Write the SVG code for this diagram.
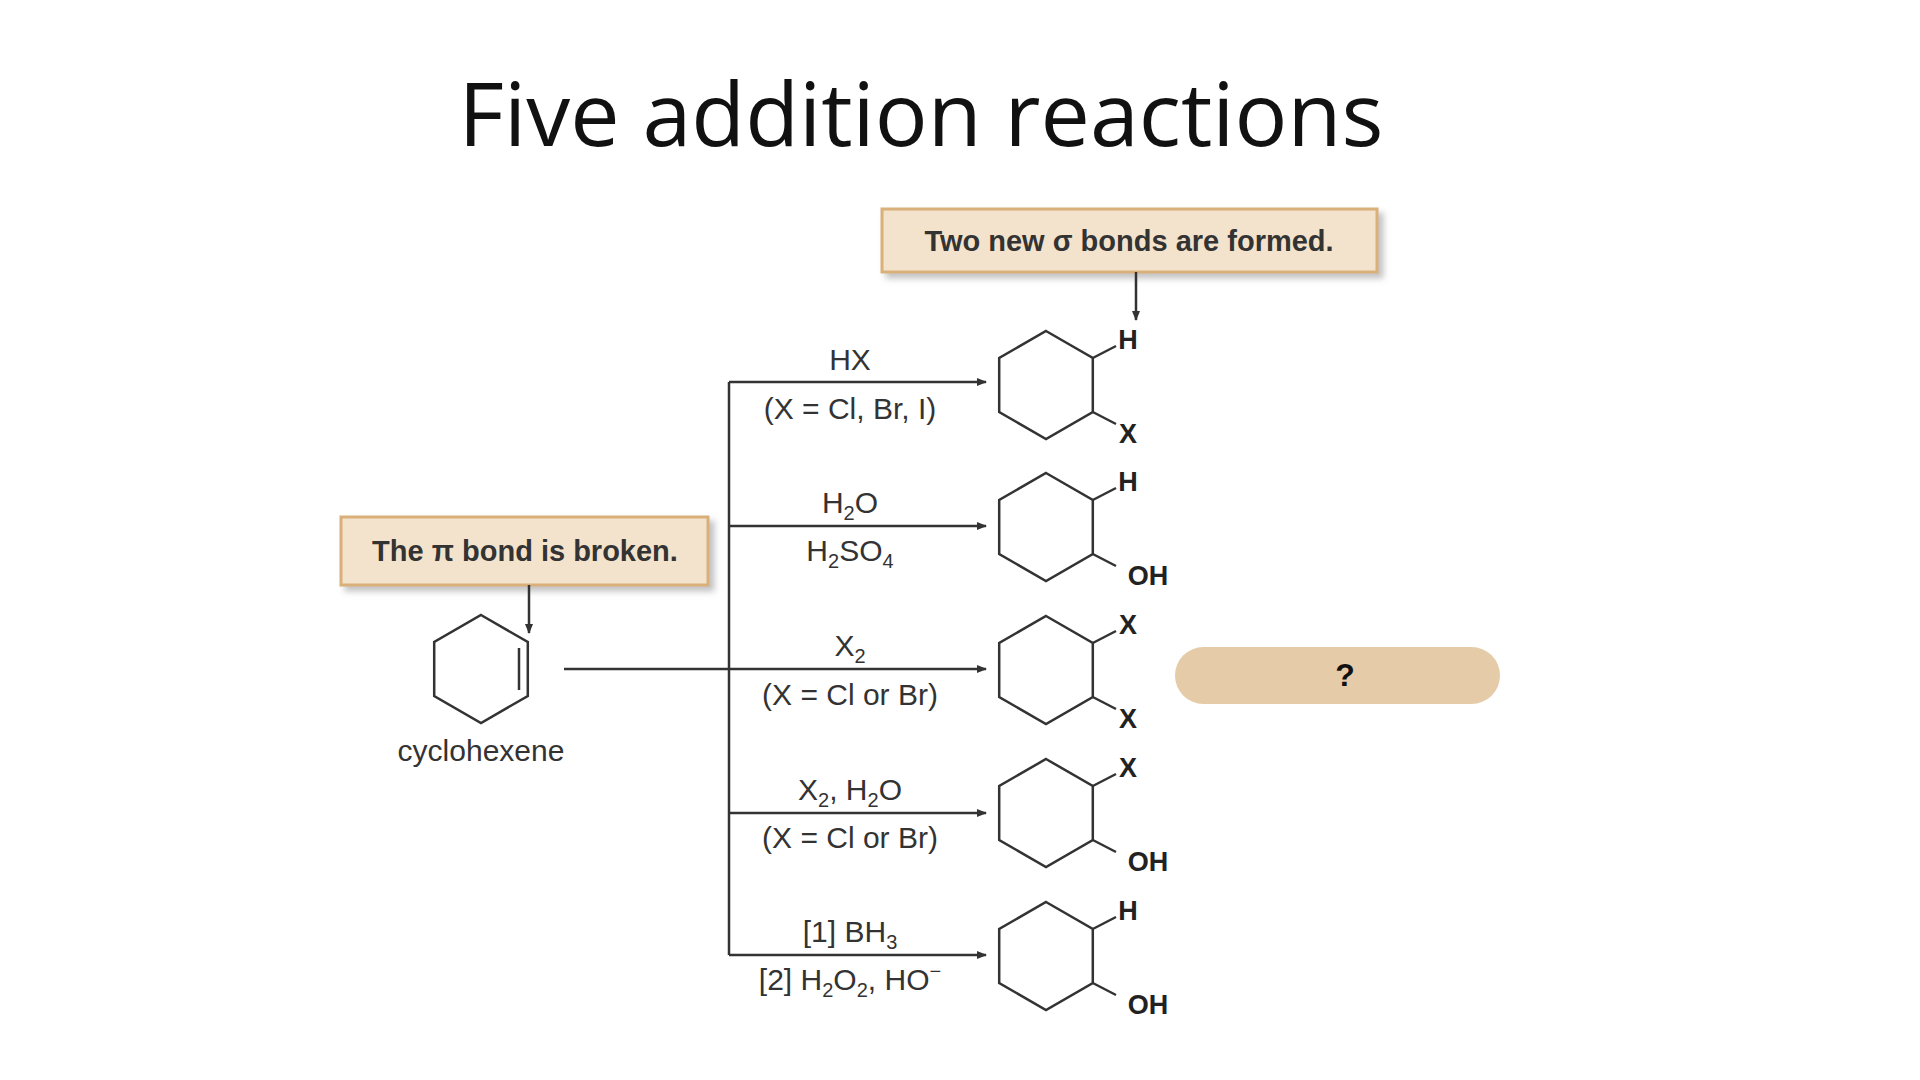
<svg xmlns="http://www.w3.org/2000/svg" xmlns:xlink="http://www.w3.org/1999/xlink" width="1920" height="1080" viewBox="0 0 1920 1080">
<style>
.t{font-family:"Liberation Sans",Arial,sans-serif;fill:#333}
.lab{font-size:30px;text-anchor:middle}
.sub{font-size:27px;font-weight:bold;fill:#222}
.box{fill:#f3e3cc;stroke:#d9b07a;stroke-width:3}
.ln{stroke:#333;stroke-width:2.5;fill:none}
.hex{stroke:#333;stroke-width:2.5;fill:none}
</style>
<defs>
<marker id="ah" markerWidth="10" markerHeight="8" refX="9" refY="4" orient="auto" markerUnits="userSpaceOnUse"><path d="M0,0 L10,4 L0,8 Z" fill="#333"/></marker>
<filter id="sh" x="-10%" y="-20%" width="130%" height="160%"><feDropShadow dx="5" dy="5" stdDeviation="3" flood-color="#999" flood-opacity="0.6"/></filter>
<g id="hx"><path class="hex" d="M0,-54 L46.8,-27 L46.8,27 L0,54 L-46.8,27 L-46.8,-27 Z"/><path class="ln" d="M46.8,-27 L70,-39 M46.8,27 L70,39"/></g>
</defs>
<rect width="1920" height="1080" fill="#fff"/>
<text x="921" y="146" font-family="'Open Sans','Liberation Sans',sans-serif" font-size="88" text-anchor="middle" fill="#111">Five addition reactions</text>
<g id="boxTop"><rect class="box" x="882" y="209" width="495" height="63" filter="url(#sh)"/><text class="t" x="1129" y="251" font-size="29" font-weight="bold" text-anchor="middle">Two new σ bonds are formed.</text></g>
<g id="boxLeft"><rect class="box" x="341" y="517" width="367" height="68" filter="url(#sh)"/><text class="t" x="525" y="561" font-size="29" font-weight="bold" text-anchor="middle">The π bond is broken.</text></g>
<g id="cyclohexene"><path class="hex" d="M481,615 L527.8,642 L527.8,696 L481,723 L434.2,696 L434.2,642 Z"/><path class="ln" d="M519,648 L519,690"/><text class="t lab" x="481" y="761">cyclohexene</text></g>
<g id="connectors">
<path class="ln" d="M1136,272 L1136,320" marker-end="url(#ah)"/>
<path class="ln" d="M529,585 L529,633" marker-end="url(#ah)"/>
<path class="ln" d="M729,382 L729,955"/>
<path class="ln" d="M564,669 L986,669" marker-end="url(#ah)"/>
<path class="ln" d="M729,382 L986,382" marker-end="url(#ah)"/>
<path class="ln" d="M729,526 L986,526" marker-end="url(#ah)"/>
<path class="ln" d="M729,813 L986,813" marker-end="url(#ah)"/>
<path class="ln" d="M729,955 L986,955" marker-end="url(#ah)"/>
</g>
<g id="labels" class="t lab">
<text x="850" y="370">HX</text><text x="850" y="419">(X = Cl, Br, I)</text>
<text x="850" y="513">H<tspan font-size="20" dy="7">2</tspan><tspan dy="-7">O</tspan></text>
<text x="850" y="561">H<tspan font-size="20" dy="7">2</tspan><tspan dy="-7">SO</tspan><tspan font-size="20" dy="7">4</tspan></text>
<text x="850" y="656">X<tspan font-size="20" dy="7">2</tspan></text><text x="850" y="705">(X = Cl or Br)</text>
<text x="850" y="800">X<tspan font-size="20" dy="7">2</tspan><tspan dy="-7">, H</tspan><tspan font-size="20" dy="7">2</tspan><tspan dy="-7">O</tspan></text><text x="850" y="848">(X = Cl or Br)</text>
<text x="850" y="942">[1] BH<tspan font-size="20" dy="7">3</tspan></text>
<text x="850" y="990">[2] H<tspan font-size="20" dy="7">2</tspan><tspan dy="-7">O</tspan><tspan font-size="20" dy="7">2</tspan><tspan dy="-7">, HO</tspan><tspan font-size="20" dy="-12">−</tspan></text>
</g>
<g id="p1"><use xlink:href="#hx" x="1046" y="385"/><text class="t sub" x="1128" y="349" text-anchor="middle">H</text><text class="t sub" x="1128" y="443" text-anchor="middle">X</text></g>
<g id="p2"><use xlink:href="#hx" x="1046" y="527"/><text class="t sub" x="1128" y="491" text-anchor="middle">H</text><text class="t sub" x="1148" y="585" text-anchor="middle">OH</text></g>
<g id="p3"><use xlink:href="#hx" x="1046" y="670"/><text class="t sub" x="1128" y="634" text-anchor="middle">X</text><text class="t sub" x="1128" y="728" text-anchor="middle">X</text></g>
<g id="p4"><use xlink:href="#hx" x="1046" y="813"/><text class="t sub" x="1128" y="777" text-anchor="middle">X</text><text class="t sub" x="1148" y="871" text-anchor="middle">OH</text></g>
<g id="p5"><use xlink:href="#hx" x="1046" y="956"/><text class="t sub" x="1128" y="920" text-anchor="middle">H</text><text class="t sub" x="1148" y="1014" text-anchor="middle">OH</text></g>
<g id="question"><rect x="1175" y="647" width="325" height="57" rx="28.5" fill="#e5cba8"/><text x="1345" y="686" font-family="'Liberation Sans',sans-serif" font-size="32" font-weight="bold" text-anchor="middle" fill="#111">?</text></g>
</svg>
